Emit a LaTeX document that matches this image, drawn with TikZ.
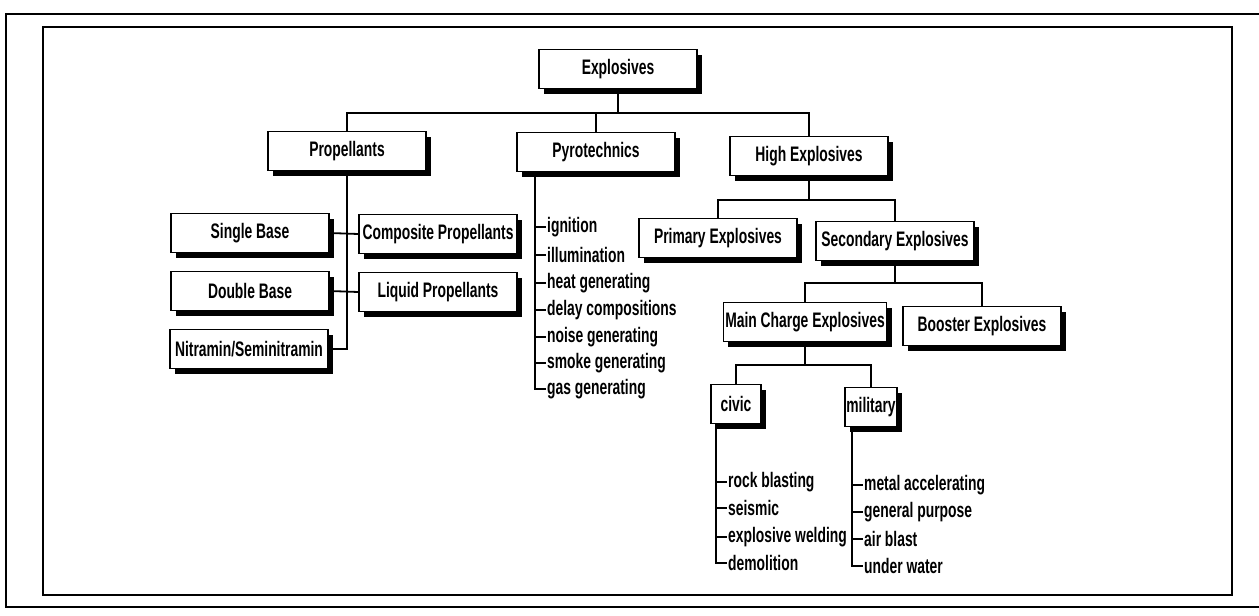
\documentclass[tikz,border=0pt]{standalone}
\usepackage{fontspec}
\setmainfont{Liberation Sans}[FakeStretch=0.66]
\usetikzlibrary{shadows}

\tikzset{
  catbox/.style={draw, fill=white, line width=1.3pt, minimum width=158pt,
    minimum height=39pt, inner sep=2pt,
    drop shadow={opacity=1, fill=black, shadow xshift=5pt, shadow yshift=-5pt},
    font=\fontsize{21}{23}\selectfont\bfseries},
  listitem/.style={anchor=west, inner sep=1pt, font=\fontsize{21}{23}\selectfont\bfseries},
  link/.style={line width=1.8pt},
}

\begin{document}
\begin{tikzpicture}[x=1pt,y=-1pt]

\useasboundingbox (0,0) rectangle (1259,616) ;

%frames
\draw [line width=2pt] (6,14) rectangle (1268,607) ;
\draw [line width=1.8pt] (43,27) rectangle (1232,595) ;

%top levels
\node [catbox] (expl) at (618,69) {Explosives} ;
\node [catbox] (prop) at (347,151) {Propellants} ;
\node [catbox] (pyro) at (596,152) {Pyrotechnics} ;
\node [catbox] (high) at (809,156) {High Explosives} ;

\coordinate (busA) at (618,113) ;
\draw [link] (prop.north) |- (busA) -| (high.north) ;
\draw [link] (expl.south) -- (busA) ;
\draw [link] (pyro.north) -- (pyro.north |- busA) ;

%propellants
\node [catbox] (single) at (250,233) {Single Base} ;
\node [catbox] (comp) at (438,234) {Composite Propellants} ;
\node [catbox] (double) at (250,291) {Double Base} ;
\node [catbox] (liquid) at (438,292) {Liquid Propellants} ;
\node [catbox] (nitr) at (249,349) {Nitramin/Seminitramin} ;

\draw [link] (prop.south) |- (nitr.east) ;
\draw [link] (single.east) -- (comp.west) ;
\draw [link] (double.east) -- (liquid.west) ;

%pyrotechnics list
\coordinate (pyrotop) at (535,172) ;
\foreach \name/\ypos/\txt in {ign/227/ignition, illu/255/illumination,
  heat/283/heat generating, delay/310/delay compositions,
  noise/337/noise generating, smoke/363/smoke generating,
  gas/389/gas generating}
{
  \node [listitem] (\name) at (546,\ypos) {\txt} ;
  \draw [link] (pyrotop) |- (\name.west) ;
}

%high explosives
\node [catbox] (prim) at (718,238) {Primary Explosives} ;
\node [catbox] (sec) at (895,241) {Secondary Explosives} ;

\coordinate (busB) at (809,200) ;
\draw [link] (prim.north) |- (busB) -| (sec.north) ;
\draw [link] (high.south) -- (busB) ;

%secondary explosives
\node [catbox] (main) at (805,322) {Main Charge Explosives} ;
\node [catbox] (boost) at (982,326) {Booster Explosives} ;

\coordinate (busC) at (895,283) ;
\draw [link] (main.north) |- (busC) -| (boost.north) ;
\draw [link] (sec.south) -- (busC) ;

%main charge explosives
\node [catbox, minimum width=50pt] (civic) at (736,404) {civic} ;
\node [catbox, minimum width=52pt, inner sep=1pt] (mil) at (871,407) {military} ;

\coordinate (busD) at (805,365) ;
\draw [link] (civic.north) |- (busD) -| (mil.north) ;
\draw [link] (main.south) -- (busD) ;

%civic list
\coordinate (civictop) at (716,424) ;
\foreach \name/\ypos/\txt in {rock/482/rock blasting, seis/508/seismic,
  weld/537/explosive welding, demo/563/demolition}
{
  \node [listitem] (\name) at (727,\ypos) {\txt} ;
  \draw [link] (civictop) |- (\name.west) ;
}

%military list
\coordinate (miltop) at (852,428) ;
\foreach \name/\ypos/\txt in {metal/485/metal accelerating, gen/512/general purpose,
  air/539/air blast, water/566/under water}
{
  \node [listitem] (\name) at (863,\ypos) {\txt} ;
  \draw [link] (miltop) |- (\name.west) ;
}

\end{tikzpicture}
\end{document}
